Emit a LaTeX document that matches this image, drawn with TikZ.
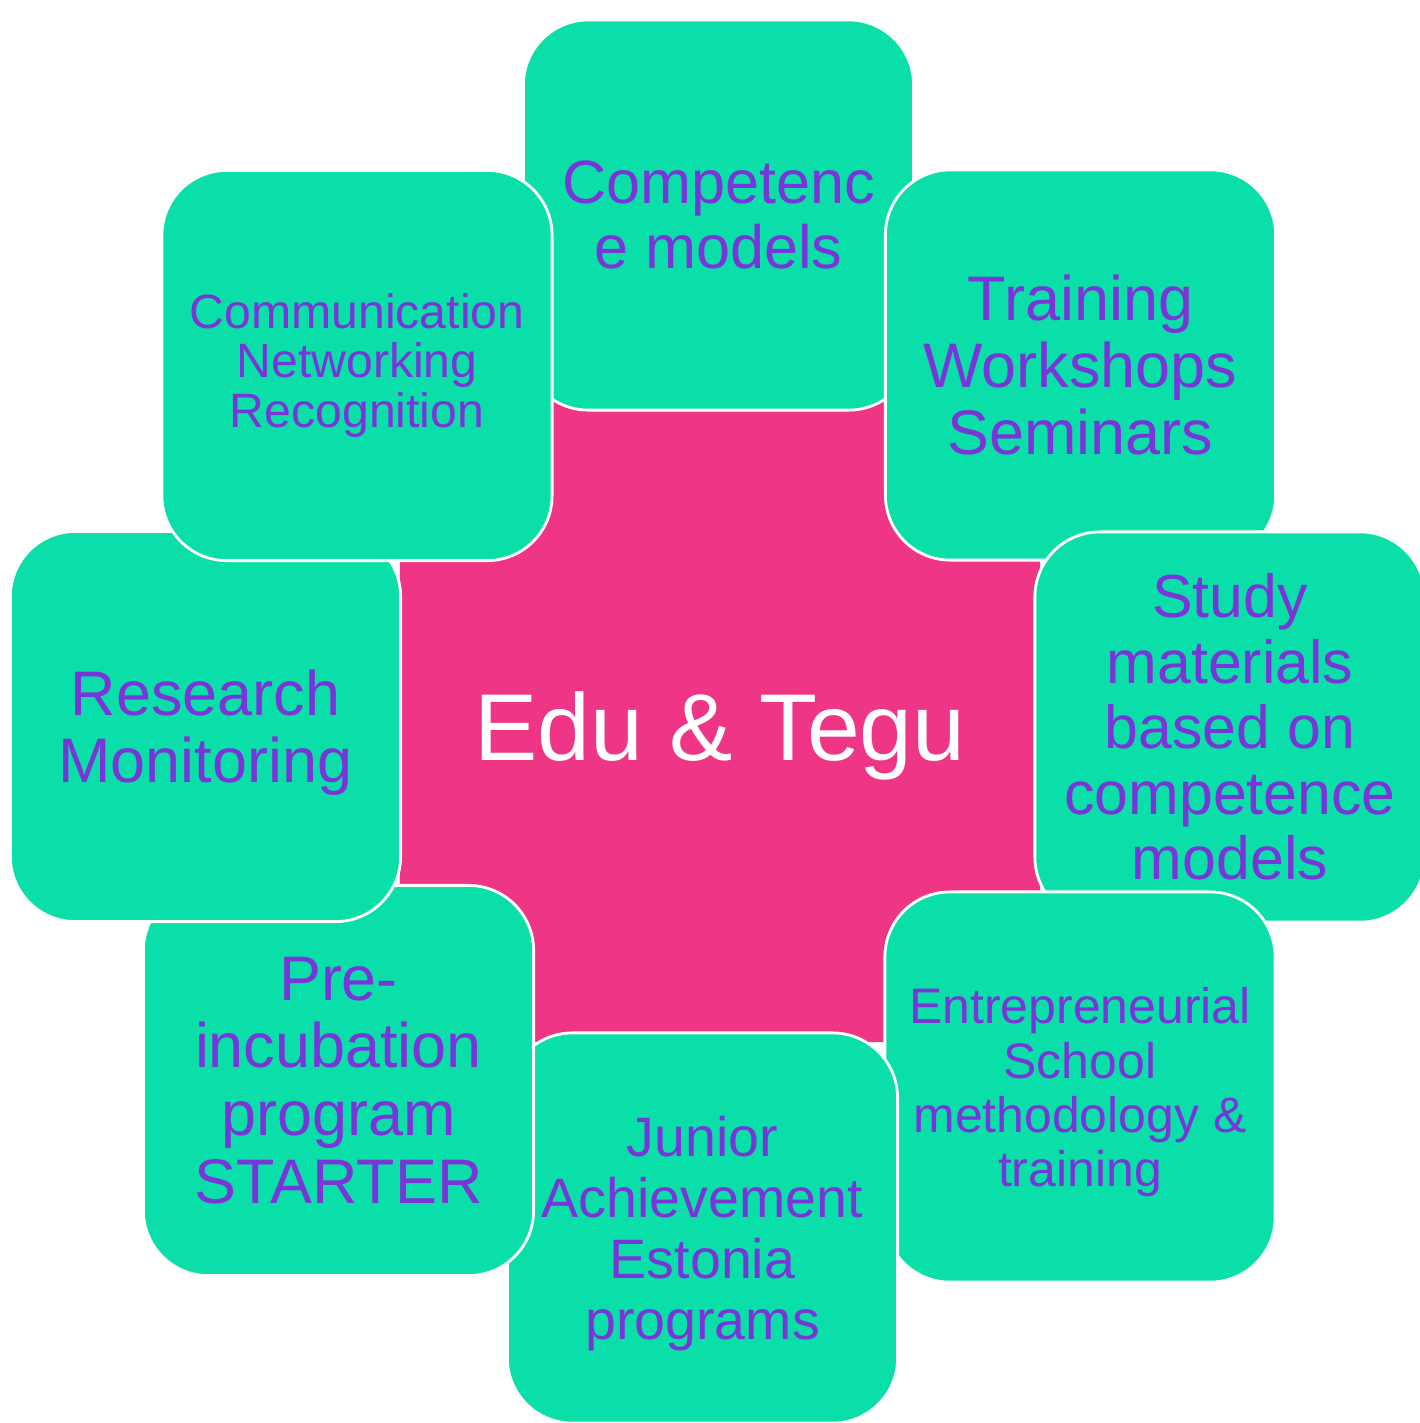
\documentclass[tikz,border=0pt]{standalone}
\usepackage{fontspec}
\setmainfont{Liberation Sans}
\definecolor{topicgreen}{RGB}{10,223,170}
\definecolor{hubpink}{RGB}{239,53,133}
\definecolor{labelpurple}{RGB}{122,53,216}
\newcommand{\fsz}[2]{\fontsize{#1}{#2}\selectfont}
\tikzset{
  topic/.style={draw=white, line width=0.8pt, fill=topicgreen, rounded corners=0.65cm,
    minimum width=3.9cm, minimum height=3.9cm, inner sep=0pt, align=center, text=labelpurple},
  hub/.style={fill=hubpink, rounded corners=0.65cm, minimum size=6.4cm, inner sep=0pt,
    text=white, text height=22pt, text depth=0pt}
}
\begin{document}
\begin{tikzpicture}[x=0.01cm, y=-0.01cm]
  \useasboundingbox (0,0) rectangle (1420,1423);
  \node[hub, font=\fsz{27}{30}] (hub) at (720,722) {Edu \& Tegu};
  \node[topic, font=\fsz{17.4}{18.3}] (competence) at (718.5,215) {Competenc\\e models};
  \node[topic, font=\fsz{17.9}{19.1}] (training) at (1080.5,365) {Training\\Workshops\\Seminars};
  \node[topic, font=\fsz{17.3}{18.6}] (study) at (1230,727) {Study\\materials\\based on\\competence\\models};
  \node[topic, font=\fsz{14.2}{15.4}, text depth=0pt] (school) at (1080,1087) {Entrepreneurial\\School\\methodology \&\\training};
  \node[topic, font=\fsz{15.8}{17.4}, text depth=0pt] (junior) at (702.5,1228) {Junior\\Achievement\\Estonia\\programs};
  \node[topic, font=\fsz{17.9}{19.3}] (starter) at (338.5,1080.5) {Pre-\\incubation\\program\\STARTER};
  \node[topic, font=\fsz{17.9}{19.1}, text depth=0pt] (research) at (205.5,726.5) {Research\\Monitoring};
  \node[topic, font=\fsz{13.7}{14.2}] (network) at (357,365.5) {Communication\\Networking\\Recognition};
\end{tikzpicture}
\end{document}
